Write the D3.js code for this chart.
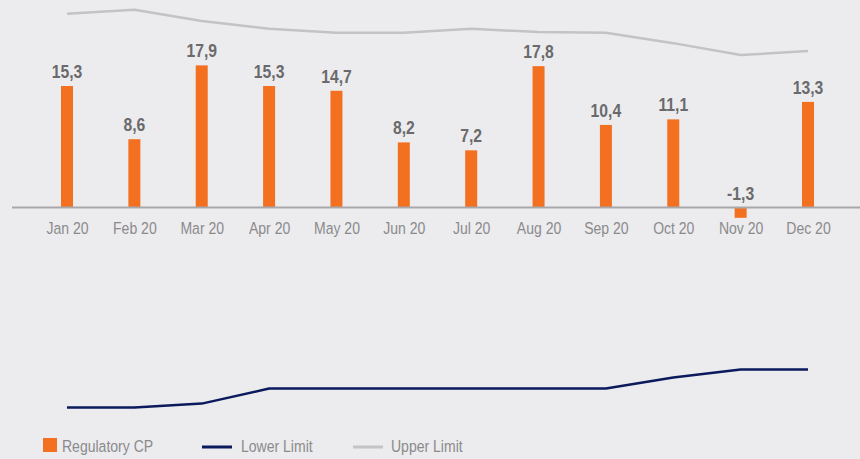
<!DOCTYPE html>
<html>
<head>
<meta charset="utf-8">
<script src="https://cdn.jsdelivr.net/npm/d3@7"></script>
<style>
  html, body { margin: 0; padding: 0; background: #ececee; }
  svg { display: block; }
  text { font-family: "Liberation Sans", Arial, sans-serif; }
</style>
</head>
<body>
<svg id="chart" width="860" height="459"></svg>
<script>
// Monthly regulatory CP with its lower and upper limits
const months = ["Jan 20", "Feb 20", "Mar 20", "Apr 20", "May 20", "Jun 20",
                "Jul 20", "Aug 20", "Sep 20", "Oct 20", "Nov 20", "Dec 20"];
const regulatoryCP = [15.3, 8.6, 17.9, 15.3, 14.7, 8.2, 7.2, 17.8, 10.4, 11.1, -1.3, 13.3];
const lowerLimit = [-25.2, -25.2, -24.7, -22.8, -22.8, -22.8, -22.8, -22.8, -22.8, -21.4, -20.4, -20.4];
const upperLimit = [24.4, 24.9, 23.5, 22.5, 22.0, 22.0, 22.5, 22.1, 22.0, 20.7, 19.2, 19.7];
const seriesNames = ["Regulatory CP", "Lower Limit", "Upper Limit"];

const colors = { bar: "#f37021", lower: "#0b1a5c", upper: "#c3c3c5", axis: "#a8a8aa",
                 label: "#6a6a6c", tick: "#8a8a8c" };

// horizontal squeeze giving the narrow typeface look
const squeeze = "scale(0.85,1)";

const svg = d3.select("#chart");

const x = d3.scalePoint().domain(months).range([67, 808]);
const y = d3.scaleLinear().domain([-25, 25]).range([406, 9]);
const barWidth = 12;
const fmt = v => d3.format(".1f")(v).replace(".", ",").replace("\u2212", "-");

// bars
svg.append("g").selectAll("rect")
  .data(regulatoryCP)
  .join("rect")
  .attr("x", (d, i) => x(months[i]) - barWidth / 2)
  .attr("y", d => y(Math.max(0, d)))
  .attr("width", barWidth)
  .attr("height", d => Math.abs(y(d) - y(0)))
  .attr("fill", colors.bar);

// zero axis line with month labels
const xAxis = d3.axisBottom(x).tickSize(0).tickPadding(0);
const gx = svg.append("g")
  .attr("transform", `translate(0,${y(0)})`)
  .call(xAxis);
gx.select(".domain").remove();
gx.selectAll("text")
  .attr("dy", null)
  .attr("y", 0)
  .attr("transform", `translate(0,26) ${squeeze}`)
  .attr("fill", colors.tick)
  .style("font-size", "16.5px")
  .style("font-family", "'Liberation Sans', Arial, sans-serif");
svg.append("line")
  .attr("x1", 12).attr("x2", 860)
  .attr("y1", y(0)).attr("y2", y(0))
  .attr("stroke", colors.axis).attr("stroke-width", 2);

// value labels
svg.append("g").selectAll("text")
  .data(regulatoryCP)
  .join("text")
  .attr("transform", (d, i) => `translate(${x(months[i])},${y(Math.max(0, d)) - 8}) ${squeeze}`)
  .attr("text-anchor", "middle")
  .attr("fill", colors.label)
  .style("font-size", "18.5px")
  .style("font-weight", "bold")
  .text(fmt);

// limit lines
const line = d3.line()
  .x((d, i) => x(months[i]))
  .y(d => y(d));

svg.append("path")
  .datum(upperLimit)
  .attr("d", line)
  .attr("fill", "none")
  .attr("stroke", colors.upper)
  .attr("stroke-width", 2.5)
  .attr("stroke-linejoin", "round");

svg.append("path")
  .datum(lowerLimit)
  .attr("d", line)
  .attr("fill", "none")
  .attr("stroke", colors.lower)
  .attr("stroke-width", 2.5)
  .attr("stroke-linejoin", "round");

// legend
const legend = svg.append("g");
const items = [
  { name: seriesNames[0], type: "rect", color: colors.bar, x: 43, tx: 62 },
  { name: seriesNames[1], type: "line", color: colors.lower, x: 202, tx: 241 },
  { name: seriesNames[2], type: "line", color: colors.upper, x: 353, tx: 391 }
];
const ly = 445;
items.forEach(it => {
  if (it.type === "rect") {
    legend.append("rect")
      .attr("x", it.x).attr("y", ly - 7)
      .attr("width", 14).attr("height", 14)
      .attr("fill", it.color);
  } else {
    legend.append("line")
      .attr("x1", it.x).attr("x2", it.x + 30)
      .attr("y1", ly + 2).attr("y2", ly + 2)
      .attr("stroke", it.color).attr("stroke-width", 3);
  }
  legend.append("text")
    .attr("transform", `translate(${it.tx},${ly + 7}) ${squeeze}`)
    .attr("fill", colors.tick)
    .style("font-size", "16.5px")
    .text(it.name);
});
</script>
</body>
</html>
